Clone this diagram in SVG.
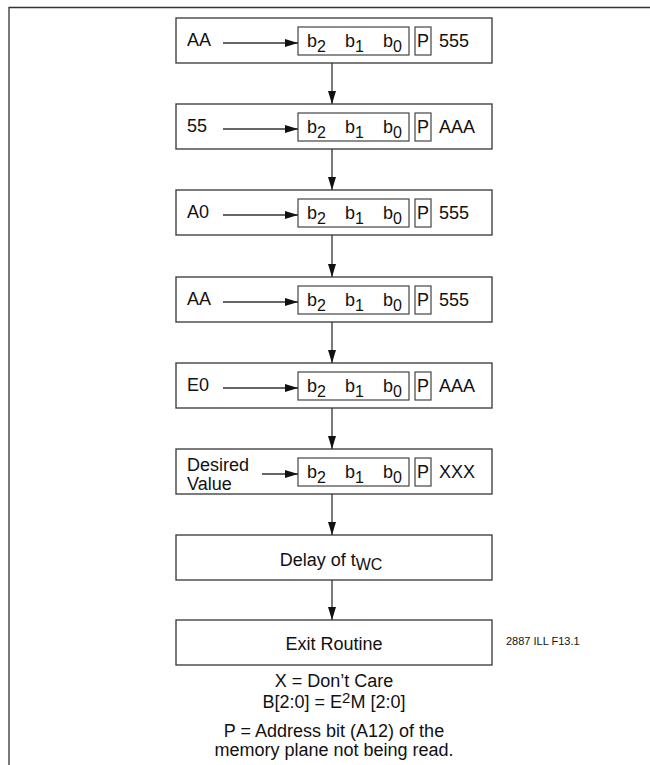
<svg xmlns="http://www.w3.org/2000/svg" width="650" height="765" viewBox="0 0 650 765">
<style>
text{font-family:"Liberation Sans",Arial,sans-serif;font-size:18px;fill:#111}
.box{fill:#fff;stroke:#444;stroke-width:1.4}
.ib{fill:none;stroke:#444;stroke-width:1.2}
.ln{stroke:#333;stroke-width:1.3;fill:none}
.sm{font-size:11px}
.c{text-anchor:middle}
</style>
<defs>
<marker id="ah" markerWidth="14" markerHeight="10" refX="13" refY="5" orient="auto" markerUnits="userSpaceOnUse">
<path d="M0,1 L13,5 L0,9 Z" fill="#111"/>
</marker>
<g id="reg">
<rect class="ib" x="298" y="9" width="111" height="28"/>
<rect class="ib" x="415" y="9" width="16" height="28"/>
<text x="307" y="29">b<tspan font-size="16" dy="5">2</tspan></text>
<text x="345" y="29">b<tspan font-size="16" dy="5">1</tspan></text>
<text x="383" y="29">b<tspan font-size="16" dy="5">0</tspan></text>
<text x="417" y="29">P</text>
</g>
</defs>
<g id="frame"><path class="ln" d="M9,765 V7.5 H650" stroke-width="2"/></g>
<g id="n1"><rect class="box" x="176" y="18" width="316" height="45"/><use href="#reg" y="18"/><text x="187" y="46">AA</text><text x="439" y="47">555</text></g>
<g id="n2"><rect class="box" x="176" y="104" width="316" height="45"/><use href="#reg" y="104"/><text x="187" y="132">55</text><text x="439" y="133">AAA</text></g>
<g id="n3"><rect class="box" x="176" y="190" width="316" height="45"/><use href="#reg" y="190"/><text x="187" y="218">A0</text><text x="439" y="219">555</text></g>
<g id="n4"><rect class="box" x="176" y="277" width="316" height="45"/><use href="#reg" y="277"/><text x="187" y="305">AA</text><text x="439" y="306">555</text></g>
<g id="n5"><rect class="box" x="176" y="363" width="316" height="45"/><use href="#reg" y="363"/><text x="187" y="391">E0</text><text x="439" y="392">AAA</text></g>
<g id="n6"><rect class="box" x="176" y="449" width="316" height="45"/><use href="#reg" y="449"/><text x="187" y="471" font-size="19">Desired</text><text x="187" y="490" font-size="19">Value</text><text x="439" y="478">XXX</text></g>
<g id="n7"><rect class="box" x="176" y="535" width="316" height="45"/><text x="331" y="566" class="c">Delay of t<tspan font-size="16" dy="4">WC</tspan></text></g>
<g id="n8"><rect class="box" x="176" y="620" width="316" height="45"/><text x="334" y="650" class="c">Exit Routine</text></g>
<g id="connectors">
<line class="ln" x1="223" y1="43" x2="298" y2="43" marker-end="url(#ah)"/>
<line class="ln" x1="223" y1="129" x2="298" y2="129" marker-end="url(#ah)"/>
<line class="ln" x1="223" y1="215" x2="298" y2="215" marker-end="url(#ah)"/>
<line class="ln" x1="223" y1="302" x2="298" y2="302" marker-end="url(#ah)"/>
<line class="ln" x1="223" y1="388" x2="298" y2="388" marker-end="url(#ah)"/>
<line class="ln" x1="262" y1="474" x2="298" y2="474" marker-end="url(#ah)"/>
<line class="ln" x1="332" y1="63" x2="332" y2="104" marker-end="url(#ah)"/>
<line class="ln" x1="332" y1="149" x2="332" y2="190" marker-end="url(#ah)"/>
<line class="ln" x1="332" y1="235" x2="332" y2="277" marker-end="url(#ah)"/>
<line class="ln" x1="332" y1="322" x2="332" y2="363" marker-end="url(#ah)"/>
<line class="ln" x1="332" y1="408" x2="332" y2="449" marker-end="url(#ah)"/>
<line class="ln" x1="332" y1="494" x2="332" y2="535" marker-end="url(#ah)"/>
<line class="ln" x1="332" y1="580" x2="332" y2="620" marker-end="url(#ah)"/>
</g>
<g id="notes">
<text x="506" y="645" class="sm">2887 ILL F13.1</text>
<text x="334" y="687" class="c">X = Don’t Care</text>
<text x="334" y="708" class="c">B[2:0] = E<tspan font-size="15" dy="-5">2</tspan><tspan dy="5">M [2:0]</tspan></text>
<text x="334" y="737" class="c">P = Address bit (A12) of the</text>
<text x="334" y="756" class="c">memory plane not being read.</text>
</g>
</svg>
